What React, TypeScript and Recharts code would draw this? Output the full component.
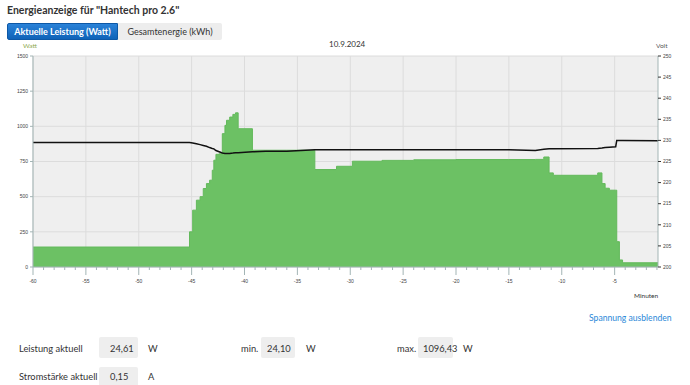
import React from 'react';
import { ComposedChart, Area, Line, XAxis, YAxis, CartesianGrid } from 'recharts';

// Zeitachse in Minuten (relativ zu jetzt), Leistung in W, Spannung in V
const minutes = [
  -60, -50, -46, -45.2, -44.9, -44.55, -44.2, -43.9, -43.6, -43.3, -43.05, -42.9, -42.7, -42.4,
  -42.1, -41.85, -41.7, -41.4, -41.1, -40.85, -40.6, -39.25, -38, -36, -33.35, -31.3, -29.8,
  -27, -24, -20, -15, -12.5, -11.7, -11.2, -10.8, -6.6, -6.2, -5.9, -5.5, -4.9, -4.8, -4.55,
  -4.25, -0.9,
];
const watt = [
  142, 142, 142, 250, 404, 475, 500, 558, 593, 617, 688, 759, 801, 805,
  948, 1007, 1043, 1066, 1085, 1096, 983, 830, 830, 830, 693, 716, 752,
  758, 762, 764, 764, 765, 782, 669, 652, 669, 593, 560, 546, 546, 180, 50,
  30, 25,
];
const volt = [
  229.5, 229.5, 229.5, 229.5, 229.4, 229.2, 229.0, 228.8, 228.6, 228.3, 228.1, 228.0, 227.6, 227.3,
  227.0, 226.9, 226.9, 226.9, 227.0, 227.1, 227.1, 227.3, 227.4, 227.4, 227.8, 227.8, 227.8,
  227.8, 227.8, 227.8, 227.8, 227.6, 227.9, 228.0, 228.0, 228.1, 228.2, 228.3, 228.4, 228.5, 230.0, 230.0,
  230.0, 229.9,
];

const wattTicks = [0, 250, 500, 750, 1000, 1250, 1500];
const voltTicks = [200, 205, 210, 215, 220, 225, 230, 235, 240, 245, 250];
const majorTicks = [-60, -55, -50, -45, -40, -35, -30, -25, -20, -15, -10, -5];

const minorTicks: number[] = [];
for (let m = -60; m <= -1; m++) minorTicks.push(m);

const data = minutes.map((m, i) => ({ min: m, watt: watt[i], volt: volt[i] }));

const AXIS = '#a3b5b5';
const UI_FONT = 'Lato, "Open Sans", sans-serif';
const TICK_FONT = '"Liberation Sans", Arial, sans-serif';

const MinuteTick = (props: any) => {
  const { x, y, payload } = props;
  const major = payload.value % 5 === 0;
  return (
    <g>
      <line x1={x} x2={x} y1={y} y2={y + (major ? 8 : 3)} stroke={AXIS} />
      {major && (
        <text x={x} y={y + 16} textAnchor="middle" fontSize={5} fill="#444" fontFamily={TICK_FONT}>
          {payload.value}
        </text>
      )}
    </g>
  );
};

const txt = (left: number, cy: number, size: number, extra: React.CSSProperties = {}): React.CSSProperties => ({
  position: 'absolute',
  left,
  top: cy - size * 0.6,
  fontSize: size,
  lineHeight: 1.2,
  whiteSpace: 'nowrap',
  ...extra,
});

const box = (left: number, top: number, width: number, height: number): React.CSSProperties => ({
  position: 'absolute',
  left,
  top,
  width,
  height,
  background: '#eeeeee',
  borderRadius: 2,
});

const LBL = 9.3;

export default function App() {
  return (
    <div
      style={{
        position: 'relative',
        width: 690,
        height: 385,
        overflow: 'hidden',
        background: '#fff',
        fontFamily: UI_FONT,
        color: '#333',
      }}
    >
      <style>{'body{margin:0}'}</style>

      <div style={txt(7, 10.5, 10.5, { fontWeight: 700, color: '#333' })}>
        Energieanzeige für "Hantech pro 2.6"
      </div>

      <div
        style={{
          position: 'absolute',
          left: 7,
          top: 23,
          width: 111,
          height: 17,
          background: 'linear-gradient(#2a82d8, #0f63b8)',
          border: '1px solid #0d58a6',
          boxSizing: 'border-box',
          borderRadius: '2px 0 0 2px',
          color: '#fff',
          fontSize: 9,
          fontWeight: 700,
          display: 'flex',
          alignItems: 'center',
          justifyContent: 'center',
        }}
      >
        Aktuelle Leistung (Watt)
      </div>
      <div
        style={{
          position: 'absolute',
          left: 118,
          top: 23,
          width: 104,
          height: 17,
          background: '#ededed',
          borderRadius: '0 2px 2px 0',
          color: '#333',
          fontSize: 9,
          display: 'flex',
          alignItems: 'center',
          justifyContent: 'center',
        }}
      >
        Gesamtenergie (kWh)
      </div>

      <div style={txt(23, 45.5, 6.5, { color: '#8fa950' })}>Watt</div>
      <div style={txt(329, 45, 8, { color: '#333' })}>10.9.2024</div>
      <div style={txt(656, 45.5, 6.5, { color: '#555' })}>Volt</div>

      <div style={{ position: 'absolute', left: 0, top: 0 }}>
        <ComposedChart width={690} height={300} data={data} margin={{ top: 56, right: 0, bottom: 0, left: 0 }}>
          <CartesianGrid
            yAxisId="w"
            fill="#efefef"
            stroke="#dcdcdc"
            verticalValues={majorTicks}
          />
          <XAxis
            dataKey="min"
            type="number"
            domain={[-60, -0.9]}
            allowDataOverflow
            ticks={minorTicks}
            interval={0}
            height={33}
            tickSize={0}
            tickMargin={0}
            tickLine={false}
            tick={<MinuteTick />}
            axisLine={{ stroke: AXIS }}
          />
          <YAxis
            yAxisId="w"
            orientation="left"
            width={33}
            domain={[0, 1500]}
            ticks={wattTicks}
            interval={0}
            tickSize={3}
            tick={{ fontSize: 5, fill: '#444', fontFamily: TICK_FONT }}
            tickLine={{ stroke: AXIS }}
            axisLine={{ stroke: AXIS }}
          />
          <YAxis
            yAxisId="v"
            orientation="right"
            width={32}
            domain={[200, 250]}
            ticks={voltTicks}
            interval={0}
            tickSize={3}
            tick={{ fontSize: 5, fill: '#444', fontFamily: TICK_FONT }}
            tickLine={{ stroke: '#333' }}
            axisLine={{ stroke: AXIS }}
          />
          <Area
            yAxisId="w"
            dataKey="watt"
            type="stepAfter"
            fill="#6cc164"
            fillOpacity={1}
            stroke="#63b95b"
            strokeWidth={1}
            dot={false}
            activeDot={false}
            isAnimationActive={false}
          />
          <Line
            yAxisId="v"
            dataKey="volt"
            type="linear"
            stroke="#111"
            strokeWidth={1.5}
            dot={false}
            activeDot={false}
            isAnimationActive={false}
          />
        </ComposedChart>
      </div>

      <div style={txt(634, 296, 6.5, { color: '#333' })}>Minuten</div>

      <div style={txt(589, 318, 8.6, { color: '#2b88d8' })}>Spannung ausblenden</div>

      <div style={txt(19, 348.3, LBL)}>Leistung aktuell</div>
      <div style={box(99, 337, 39, 21)} />
      <div style={txt(110, 348.3, LBL)}>24,61</div>
      <div style={txt(148, 348.3, LBL)}>W</div>

      <div style={txt(241, 348.3, LBL)}>min.</div>
      <div style={box(261, 337, 34, 21)} />
      <div style={txt(267, 348.3, LBL)}>24,10</div>
      <div style={txt(306, 348.3, LBL)}>W</div>

      <div style={txt(397, 348.3, LBL)}>max.</div>
      <div style={box(418, 337, 35, 21)} />
      <div style={txt(423, 348.3, LBL)}>1096,43</div>
      <div style={txt(463, 348.3, LBL)}>W</div>

      <div style={txt(19, 376.7, LBL)}>Stromstärke aktuell</div>
      <div style={box(99, 366.7, 39, 21)} />
      <div style={txt(110, 376.7, LBL)}>0,15</div>
      <div style={txt(148, 376.7, LBL)}>A</div>
    </div>
  );
}
